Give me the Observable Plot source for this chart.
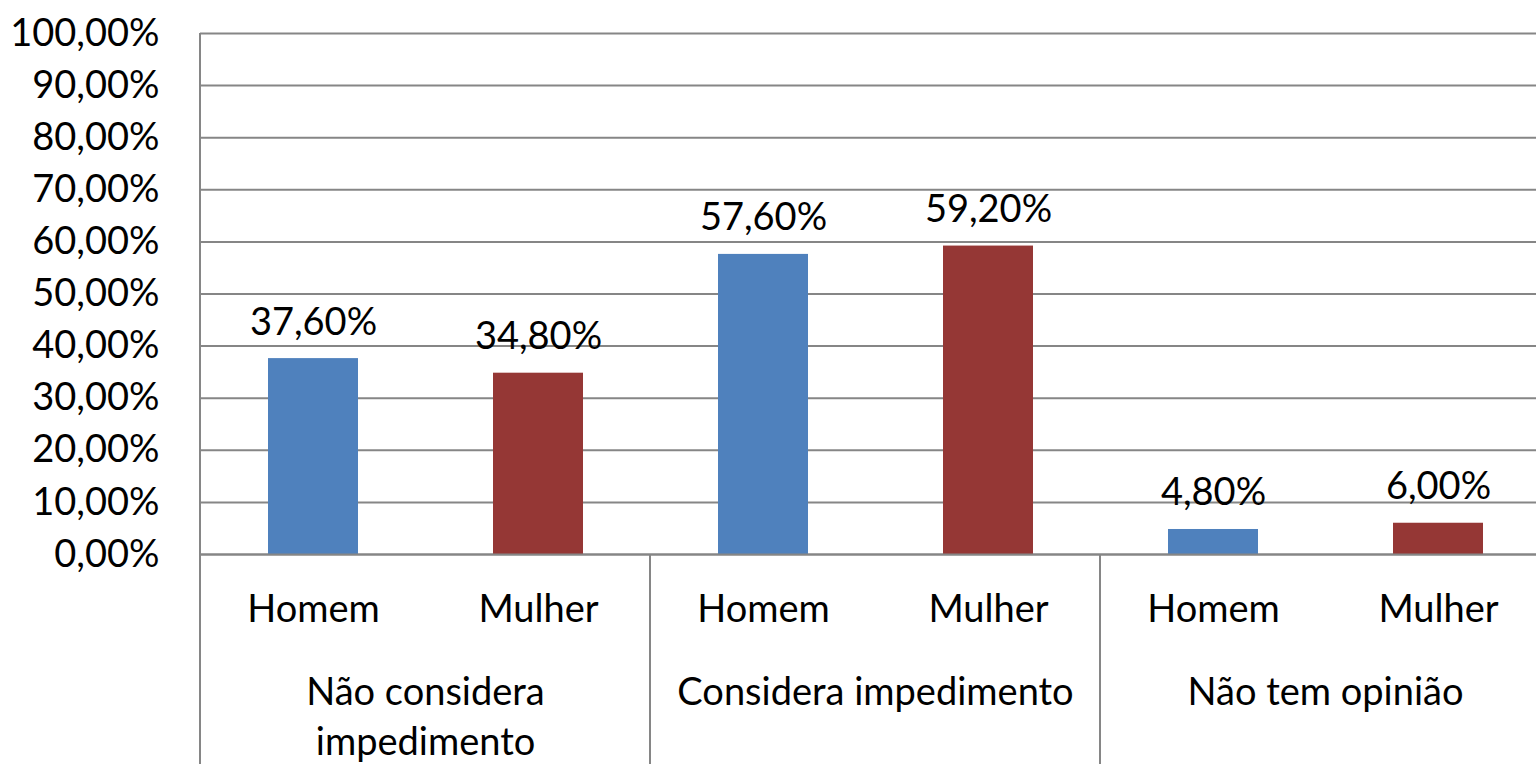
<!DOCTYPE html>
<html>
<head>
<meta charset="utf-8">
<script src="https://cdn.jsdelivr.net/npm/d3@7"></script>
<script src="https://cdn.jsdelivr.net/npm/@observablehq/plot@0.6"></script>
<style>
  html, body { margin: 0; padding: 0; background: #fff; overflow: hidden; }
  #chart svg { max-width: none !important; }
</style>
</head>
<body>
<div id="chart"></div>
<script>
const categories = ["Não considera impedimento", "Considera impedimento", "Não tem opinião"];
const categoryLabels = ["Não considera\nimpedimento", "Considera impedimento", "Não tem opinião"];
const sexes = ["Homem", "Mulher"];
const homem = [37.6, 57.6, 4.8];
const mulher = [34.8, 59.2, 6.0];
const yTicks = [0, 10, 20, 30, 40, 50, 60, 70, 80, 90, 100];
const colors = ["#4F81BD", "#953735"];

const data = [];
categories.forEach((c, i) => {
  data.push({category: c, sex: sexes[0], value: homem[i]});
  data.push({category: c, sex: sexes[1], value: mulher[i]});
});

const pct = d => d.toFixed(2).replace(".", ",") + "%";
const gridColor = "#868686";

const chart = Plot.plot({
  width: 1551,
  height: 764,
  marginTop: 33,
  marginBottom: 210,
  marginLeft: 199,
  marginRight: 0,
  style: {fontFamily: "Lato, sans-serif", fontSize: "38px", color: "#000", background: "#fff", maxWidth: "none"},
  fx: {domain: categories, padding: 0, label: null},
  x: {domain: sexes, paddingInner: 0.6, paddingOuter: 0.3, label: null},
  y: {domain: [0, 100], label: null},
  color: {domain: sexes, range: colors},
  marks: [
    Plot.gridY(yTicks, {stroke: gridColor, strokeOpacity: 1, strokeWidth: 2}),
    Plot.axisY(yTicks, {tickSize: 0, tickPadding: 41, tickFormat: pct, fontSize: 38}),
    Plot.barY(data, {fx: "category", x: "sex", y: "value", fill: "sex"}),
    Plot.text(data, {fx: "category", x: "sex", y: "value", text: d => pct(d.value), lineAnchor: "bottom", dy: -24, fontSize: 38, fill: "#000"}),
    Plot.ruleY([0], {stroke: gridColor, strokeWidth: 2}),
    Plot.axisX({tickSize: 0, tickPadding: 41, fontSize: 38}),
    Plot.axisFx({anchor: "bottom", tickSize: 0, tickPadding: 115, fontSize: 38, lineHeight: 1.32,
      tickFormat: c => categoryLabels[categories.indexOf(c)]})
  ]
});

chart.style.maxWidth = "none";
document.getElementById("chart").appendChild(chart);

// category separators and left axis line, positioned from the fx and y scales
const fx = chart.scale("fx");
const y = chart.scale("y");
const svg = d3.select(chart);
const bottom = 764;
const bw = fx.bandwidth;
const g = svg.append("g").attr("stroke", gridColor).attr("stroke-width", 2);
categories.forEach((c, i) => {
  const x0 = fx.apply(c);
  g.append("line").attr("x1", x0).attr("x2", x0)
    .attr("y1", i === 0 ? y.apply(100) : y.apply(0)).attr("y2", bottom);
});
const lastX = fx.apply(categories[categories.length - 1]) + bw;
g.append("line").attr("x1", lastX).attr("x2", lastX).attr("y1", y.apply(0)).attr("y2", bottom);
</script>
</body>
</html>
